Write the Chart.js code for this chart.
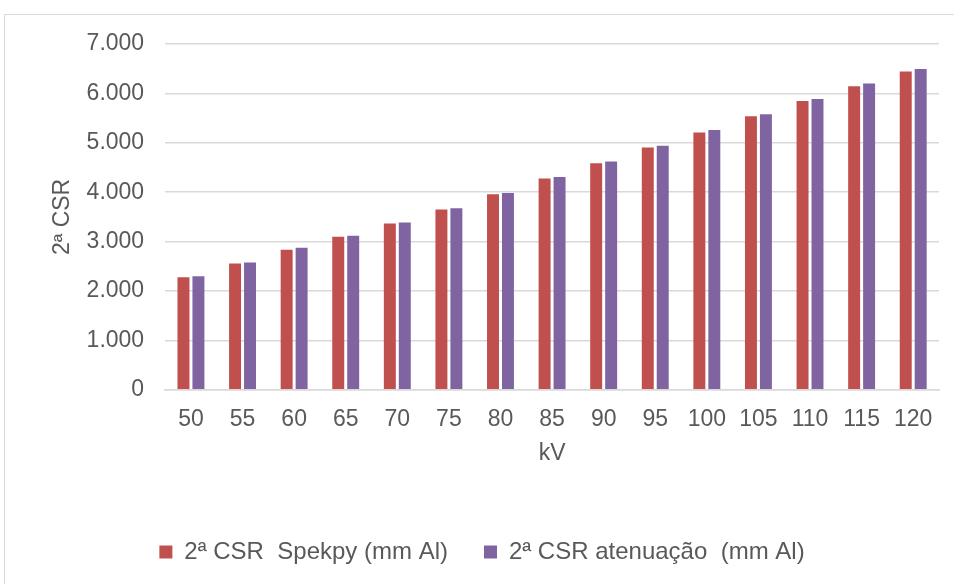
<!DOCTYPE html>
<html>
<head>
<meta charset="utf-8">
<script src="https://cdn.jsdelivr.net/npm/chart.js@4"></script>
<style>
  html, body { margin: 0; padding: 0; background: #fff; }
  #wrap { position: relative; width: 954px; height: 584px; overflow: hidden; }
  #frame { position: absolute; left: 4px; top: 14px; width: 980px; height: 620px; border: 1px solid #d9d9d9; }
  #chart { position: absolute; left: 0; top: 0; }
</style>
</head>
<body>
<div id="wrap">
  <div id="frame"></div>
  <canvas id="chart" width="954" height="584"></canvas>
</div>
<script>
const kvLabels = ["50", "55", "60", "65", "70", "75", "80", "85", "90", "95", "100", "105", "110", "115", "120"];
const csrSpekpy = [2276, 2555, 2833, 3098, 3368, 3652, 3957, 4276, 4587, 4906, 5211, 5536, 5848, 6146, 6443];
const csrAtenuacao = [2297, 2575, 2874, 3118, 3388, 3673, 3984, 4309, 4621, 4939, 5258, 5577, 5888, 6199, 6492];
const seriesNames = ["2ª CSR  Spekpy (mm Al)", "2ª CSR atenuação  (mm Al)"];

const textColor = "#595959";
const gridColor = "#d9d9d9";
const fontFamily = "'Liberation Sans', Arial, sans-serif";

const ctx = document.getElementById("chart").getContext("2d");
new Chart(ctx, {
  type: "bar",
  data: {
    labels: kvLabels,
    datasets: [
      {
        label: seriesNames[0],
        data: csrSpekpy,
        backgroundColor: "#c0504d",
        barPercentage: 0.8,
        categoryPercentage: 0.58,
      },
      {
        label: seriesNames[1],
        data: csrAtenuacao,
        backgroundColor: "#8064a2",
        barPercentage: 0.8,
        categoryPercentage: 0.58,
      },
    ],
  },
  options: {
    responsive: false,
    animation: false,
    layout: { padding: { left: 25, right: 15, top: 44, bottom: 10 } },
    plugins: {
      tooltip: { enabled: false },
      legend: {
        position: "bottom",
        labels: {
          color: textColor,
          font: { family: fontFamily, size: 24 },
          boxWidth: 13,
          boxHeight: 13,
          padding: 36,
        },
      },
    },
    scales: {
      x: {
        grid: { display: false },
        border: { color: gridColor, width: 1.5 },
        ticks: {
          color: textColor,
          font: { family: fontFamily, size: 23 },
          padding: 8,
          maxRotation: 0,
          autoSkip: false,
        },
        title: {
          display: true,
          text: "kV",
          color: textColor,
          font: { family: fontFamily, size: 23 },
          padding: { top: -2, bottom: 37 },
        },
      },
      y: {
        min: 0,
        max: 7000,
        grid: { color: gridColor, lineWidth: 1.5, drawTicks: false },
        border: { display: false },
        ticks: {
          stepSize: 1000,
          color: textColor,
          font: { family: fontFamily, size: 23 },
          padding: 21,
          callback: (v) => v.toLocaleString("de-DE"),
        },
        title: {
          display: true,
          text: "2ª CSR",
          color: textColor,
          font: { family: fontFamily, size: 23 },
          padding: { top: 24, bottom: -11 },
        },
      },
    },
  },
});
</script>
</body>
</html>
